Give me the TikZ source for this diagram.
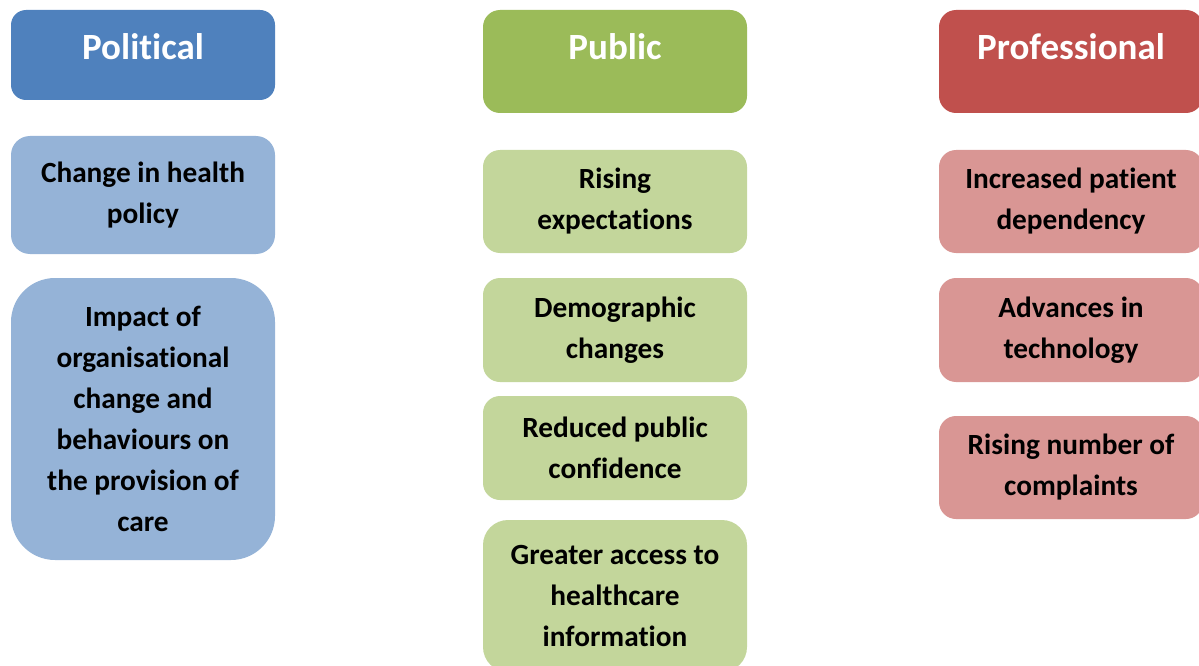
\documentclass[tikz,border=0pt]{standalone}
\usepackage{fontspec}
\setmainfont{Carlito}[Ligatures=NoCommon]
\usetikzlibrary{calc}
\definecolor{polDark}{HTML}{4F81BD}
\definecolor{polLight}{HTML}{95B3D7}
\definecolor{pubDark}{HTML}{9BBB59}
\definecolor{pubLight}{HTML}{C3D69B}
\definecolor{proDark}{HTML}{C0504D}
\definecolor{proLight}{HTML}{D99694}
\tikzset{
  card/.style={rectangle, inner sep=0pt, minimum width=264pt, text width=252pt,
    align=flush center, font=\fontsize{29.3}{41}\selectfont\bfseries, text=black},
  headcard/.style={card},
  headtext/.style={anchor=base, inner sep=0pt, font=\fontsize{37}{44}\selectfont\bfseries, text=white},
}
\begin{document}
\begin{tikzpicture}[x=1pt,y=-1pt]
\useasboundingbox (0,0) rectangle (1199,666);
\clip (0,0) rectangle (1199,666);

% Political column
\node[headcard, fill=polDark, minimum height=90pt, rounded corners=15pt] (pol) at (143,55) {};
\node[headtext] (polT) at ($(pol.north)+(0,50)$) {Political};
\node[card, fill=polLight, minimum height=118pt, rounded corners=19pt] (pol1) at (143,195) {Change in health\\policy};
\node[card, fill=polLight, minimum height=282pt, rounded corners=44pt] (pol2) at (143,419) {Impact of\\organisational\\change and\\behaviours on\\the provision of\\care};

% Public column
\node[headcard, fill=pubDark, minimum height=103pt, rounded corners=17pt] (pub) at (615,61.5) {};
\node[headtext] (pubT) at ($(pub.north)+(0,50)$) {Public};
\node[card, fill=pubLight, minimum height=103pt, rounded corners=17pt] (pub1) at (615,201.5) {Rising\\expectations};
\node[card, fill=pubLight, minimum height=104pt, rounded corners=17pt] (pub2) at (615,330) {Demographic\\changes};
\node[card, fill=pubLight, minimum height=104pt, rounded corners=17pt] (pub3) at (615,448) {Reduced public\\confidence};
\node[card, fill=pubLight, minimum height=152pt, rounded corners=25pt] (pub4) at (615,596) {Greater access to\\healthcare\\information};

% Professional column
\node[headcard, fill=proDark, minimum height=103pt, rounded corners=17pt] (pro) at (1071,61.5) {};
\node[headtext] (proT) at ($(pro.north)+(0,50)$) {Professional};
\node[card, fill=proLight, minimum height=103pt, rounded corners=17pt] (pro1) at (1071,201.5) {Increased patient\\dependency};
\node[card, fill=proLight, minimum height=104pt, rounded corners=17pt] (pro2) at (1071,330) {Advances in\\technology};
\node[card, fill=proLight, minimum height=103pt, rounded corners=17pt] (pro3) at (1071,467.5) {Rising number of\\complaints};
\end{tikzpicture}
\end{document}
